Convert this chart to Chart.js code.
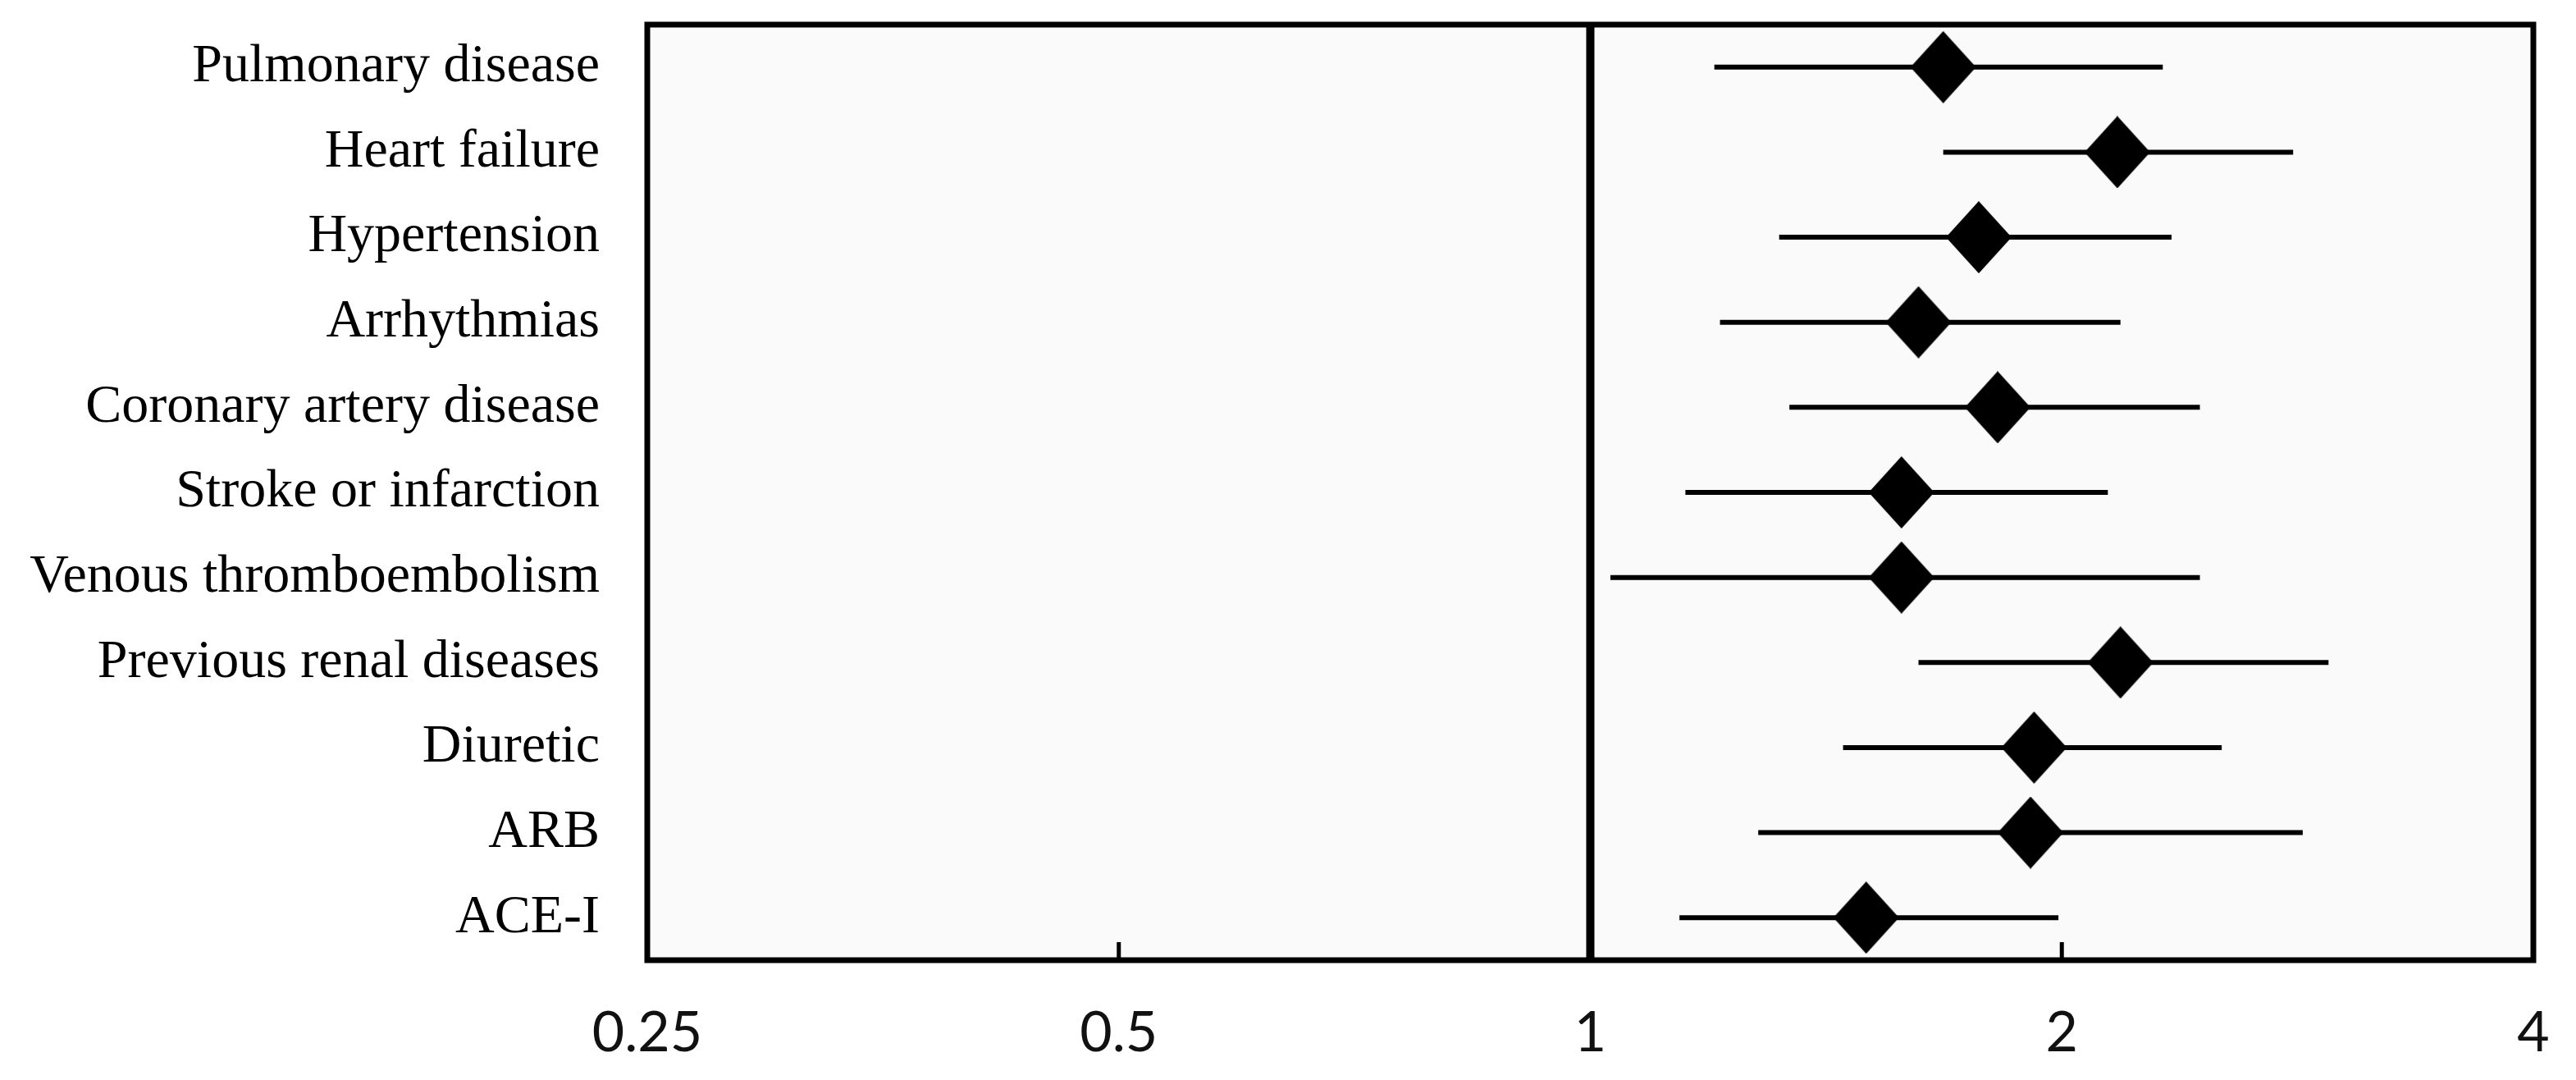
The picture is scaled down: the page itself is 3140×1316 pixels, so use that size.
<!DOCTYPE html>
<html>
<head>
<meta charset="utf-8">
<script src="https://cdn.jsdelivr.net/npm/chart.js@4.4.0/dist/chart.umd.min.js"></script>
<style>
  body { margin: 0; background: #ffffff; }
  #wrap { width: 3140px; height: 1316px; }
</style>
</head>
<body>
<div id="wrap"><canvas id="forestChart" width="3140" height="1316"></canvas></div>
<script>
// categories, top to bottom
const labels = [
    'Pulmonary disease',
    'Heart failure',
    'Hypertension',
    'Arrhythmias',
    'Coronary artery disease',
    'Stroke or infarction',
    'Venous thromboembolism',
    'Previous renal diseases',
    'Diuretic',
    'ARB',
    'ACE-I'
];
const oddsRatio = [1.68, 2.17, 1.77, 1.62, 1.82, 1.58, 1.58, 2.18, 1.92, 1.91, 1.50];
const ciLower   = [1.20, 1.68, 1.32, 1.21, 1.34, 1.15, 1.03, 1.62, 1.45, 1.28, 1.14];
const ciUpper   = [2.32, 2.81, 2.35, 2.18, 2.45, 2.14, 2.45, 2.96, 2.53, 2.85, 1.99];
const xTicks    = [0.25, 0.5, 1, 2, 4];

// diamond marker
function makeDiamond(w, h) {
    const c = document.createElement('canvas');
    c.width = w;
    c.height = h;
    const g = c.getContext('2d');
    g.fillStyle = '#000';
    g.beginPath();
    g.moveTo(w / 2, 0);
    g.lineTo(w, h / 2);
    g.lineTo(w / 2, h);
    g.lineTo(0, h / 2);
    g.closePath();
    g.fill();
    return c;
}
const diamond = makeDiamond(80, 88);

function noPadding(scale) {
    scale.paddingTop = 0;
    scale.paddingBottom = 0;
    scale.paddingLeft = 0;
    scale.paddingRight = 0;
}

const forestPlugin = {
    id: 'forest',
    beforeDraw(chart) {
        const a = chart.chartArea;
        const ctx = chart.ctx;
        ctx.save();
        ctx.fillStyle = '#fafafa';
        ctx.fillRect(a.left, a.top, a.right - a.left, a.bottom - a.top);
        ctx.restore();
    },
    beforeDatasetsDraw(chart) {
        const a = chart.chartArea;
        const ctx = chart.ctx;
        const xs = chart.scales.x;
        const ys = chart.scales.y;
        ctx.save();
        ctx.strokeStyle = '#000';
        ctx.lineCap = 'butt';

        // small inside ticks
        ctx.lineWidth = 5;
        xTicks.forEach(v => {
            const px = xs.getPixelForValue(v);
            ctx.beginPath();
            ctx.moveTo(px, a.bottom);
            ctx.lineTo(px, a.bottom - 22);
            ctx.stroke();
        });

        // reference line at 1
        const one = xs.getPixelForValue(1);
        ctx.lineWidth = 10;
        ctx.beginPath();
        ctx.moveTo(one, a.top);
        ctx.lineTo(one, a.bottom);
        ctx.stroke();

        // confidence intervals
        ctx.lineWidth = 6;
        labels.forEach((lab, i) => {
            const py = ys.getPixelForValue(i);
            ctx.beginPath();
            ctx.moveTo(xs.getPixelForValue(ciLower[i]), py);
            ctx.lineTo(xs.getPixelForValue(ciUpper[i]), py);
            ctx.stroke();
        });
        ctx.restore();
    },
    afterDraw(chart) {
        const a = chart.chartArea;
        const ctx = chart.ctx;
        ctx.save();
        ctx.strokeStyle = '#000';
        ctx.lineWidth = 7;
        ctx.strokeRect(a.left, a.top, a.right - a.left, a.bottom - a.top);
        ctx.restore();
    }
};

const ctx = document.getElementById('forestChart').getContext('2d');
new Chart(ctx, {
    type: 'scatter',
    data: {
        labels: labels,
        datasets: [{
            label: 'OR',
            data: labels.map((lab, i) => ({ x: oddsRatio[i], y: lab })),
            pointStyle: diamond,
            pointRadius: 40,
            pointHoverRadius: 40,
            backgroundColor: '#000',
            borderColor: '#000'
        }]
    },
    options: {
        responsive: false,
        animation: false,
        events: [],
        layout: {
            autoPadding: false,
            padding: { top: 30, right: 52, bottom: 0, left: 0 }
        },
        plugins: {
            legend: { display: false },
            tooltip: { enabled: false }
        },
        scales: {
            x: {
                type: 'logarithmic',
                min: 0.25,
                max: 4,
                border: { display: false },
                grid: { display: false, drawTicks: false },
                afterBuildTicks: function(scale) {
                    scale.ticks = xTicks.map(v => ({ value: v }));
                },
                afterFit: function(scale) {
                    scale.height = 146;
                    noPadding(scale);
                },
                ticks: {
                    autoSkip: false,
                    maxRotation: 0,
                    padding: 48,
                    color: '#111',
                    font: { family: 'Lato', size: 68 },
                    callback: function(value) {
                        return String(value);
                    }
                }
            },
            y: {
                type: 'category',
                labels: labels,
                offset: true,
                border: { display: false },
                grid: { display: false, drawTicks: false },
                afterFit: function(scale) {
                    scale.width = 789;
                    noPadding(scale);
                },
                ticks: {
                    autoSkip: false,
                    padding: 58,
                    color: '#000',
                    font: { family: 'Liberation Serif', size: 66 }
                }
            }
        }
    },
    plugins: [forestPlugin]
});
</script>
</body>
</html>
